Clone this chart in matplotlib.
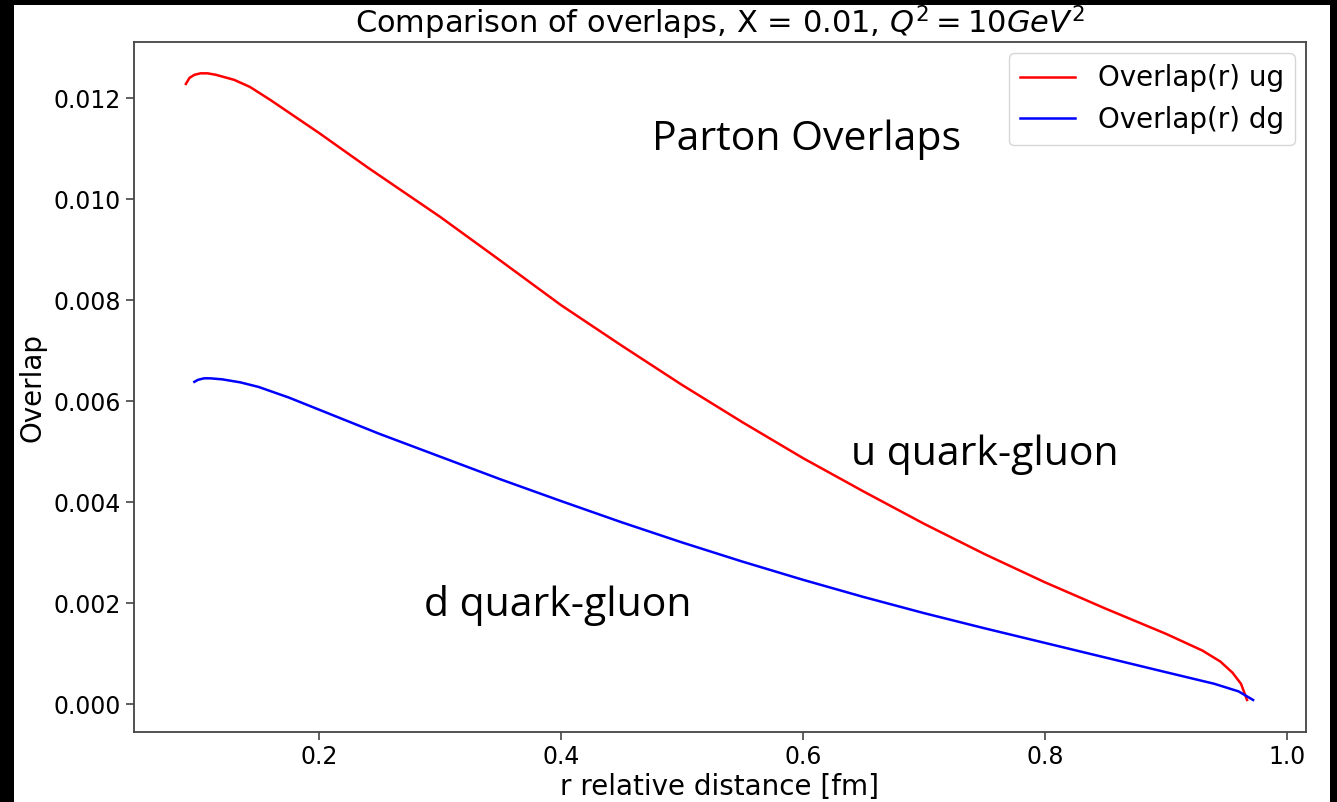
import matplotlib
matplotlib.use("Agg")
import matplotlib.pyplot as plt
from matplotlib.patches import Rectangle

# overlap values
r_ug = [0.090, 0.093, 0.097, 0.102, 0.108, 0.115, 0.130, 0.143, 0.160, 0.200, 0.240,
        0.300, 0.350, 0.400, 0.450, 0.500, 0.550, 0.600, 0.650, 0.700, 0.750,
        0.800, 0.850, 0.900, 0.930, 0.945, 0.955, 0.962, 0.967]
ov_ug = [0.01228, 0.01240, 0.01246, 0.01249, 0.01249, 0.01246, 0.01236, 0.01222, 0.01196,
         0.01131, 0.01063, 0.00965, 0.00878, 0.00790, 0.00710, 0.00632, 0.00558,
         0.00487, 0.00421, 0.00357, 0.00297, 0.00241, 0.00189, 0.00139, 0.00106,
         0.00084, 0.00062, 0.00040, 0.00008]

r_dg = [0.097, 0.100, 0.105, 0.110, 0.120, 0.135, 0.150, 0.175, 0.200, 0.250, 0.300,
        0.350, 0.400, 0.450, 0.500, 0.550, 0.600, 0.650, 0.700, 0.750, 0.800,
        0.850, 0.900, 0.940, 0.960, 0.972]
ov_dg = [0.00638, 0.00642, 0.00645, 0.00645, 0.00643, 0.00637, 0.00628, 0.00607, 0.00583,
         0.00535, 0.00490, 0.00445, 0.00402, 0.00360, 0.00320, 0.00282, 0.00246,
         0.00212, 0.00180, 0.00150, 0.00121, 0.00092, 0.00063, 0.00040, 0.00025,
         0.00008]

fig = plt.figure(figsize=(13.37, 8.02), dpi=100)
# screenshot frame: black edges around a white page
fig.patch.set_facecolor("black")
fig.patches.append(Rectangle((14 / 1337, 0), (1330 - 14) / 1337, (802 - 5) / 802,
                             transform=fig.transFigure, facecolor="white",
                             edgecolor="none", zorder=-1))

ax = fig.add_axes([0.1002, 0.0873, 0.8766, 0.8603])
ax.plot(r_ug, ov_ug, color="red", lw=1.8, label="Overlap(r) ug")
ax.plot(r_dg, ov_dg, color="blue", lw=1.8, label="Overlap(r) dg")

ax.set_xlim(0.0471, 1.0157)
ax.set_ylim(-0.000554, 0.01311)
ax.set_xticks([0.2, 0.4, 0.6, 0.8, 1.0])
ax.set_yticks([0.000, 0.002, 0.004, 0.006, 0.008, 0.010, 0.012])
ax.yaxis.set_major_formatter(matplotlib.ticker.FormatStrFormatter("%.3f"))
ax.tick_params(labelsize=17, length=6, width=1.2, color="#444")
for s in ax.spines.values():
    s.set_edgecolor("#444")
    s.set_linewidth(1.3)

ax.set_title(r"Comparison of overlaps, X = 0.01, $Q^2 = 10GeV^2$", fontsize=22, pad=5)
ax.set_xlabel("r relative distance [fm]", fontsize=20, labelpad=3)
ax.set_ylabel("Overlap", fontsize=20, labelpad=5)
ax.legend(loc="upper right", fontsize=20, handlelength=2.0, borderpad=0.4,
          borderaxespad=0.4)

ax.text(0.603, 0.01117, "Parton Overlaps", fontsize=29.5, family="Open Sans",
        ha="center", va="center")
ax.text(0.750, 0.00493, "u quark-gluon", fontsize=29.5, family="Open Sans",
        ha="center", va="center")
ax.text(0.397, 0.00196, "d quark-gluon", fontsize=29.5, family="Open Sans",
        ha="center", va="center")

fig.savefig("out.png", dpi=100, facecolor=fig.get_facecolor())
